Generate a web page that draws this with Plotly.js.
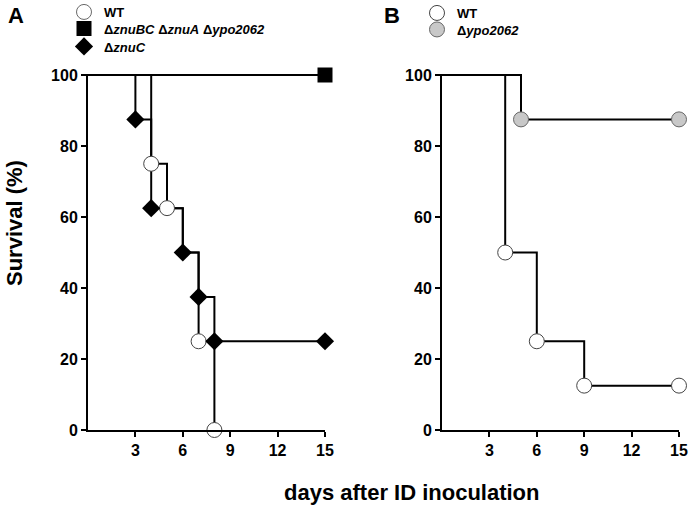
<!DOCTYPE html>
<html>
<head>
<meta charset="utf-8">
<script src="https://cdn.plot.ly/plotly-3.0.1.min.js"></script>
<style>html,body{margin:0;padding:0;background:#fff;}#chart{width:694px;height:510px;}</style>
</head>
<body>
<div id="chart"></div>
<script>
// Panel A data (days, survival %)
const aWtDays = [0, 4, 5, 6, 7, 8];
const aWtSurv = [100, 75, 62.5, 50, 25, 0];
const aTripleDays = [0, 15];
const aTripleSurv = [100, 100];
const aZnuCDays = [0, 3, 4, 6, 7, 8, 15];
const aZnuCSurv = [100, 87.5, 62.5, 50, 37.5, 25, 25];
// Panel B data
const bWtDays = [0, 4, 6, 9, 15];
const bWtSurv = [100, 50, 25, 12.5, 12.5];
const bYpoDays = [0, 5, 15];
const bYpoSurv = [100, 87.5, 87.5];

const xTicks = [3, 6, 9, 12, 15];
const yTicks = [0, 20, 40, 60, 80, 100];

const FONT = "Liberation Sans, Arial, Helvetica, sans-serif";
const lineStyle = {color: '#000', width: 2, shape: 'hv'};

function stepLine(x, y, xa, ya) {
  return {x: x, y: y, xaxis: xa, yaxis: ya, mode: 'lines', line: lineStyle,
          showlegend: false, hoverinfo: 'skip'};
}
function marks(x, y, xa, ya, name, marker, legend) {
  return {x: x.slice(1), y: y.slice(1), xaxis: xa, yaxis: ya, mode: 'markers',
          name: name, marker: marker, legend: legend, cliponaxis: false};
}

// a WT point that coincides with a ΔznuC event is hidden beneath the diamond
const aWtOpacity = aWtDays.slice(1).map((d, i) =>
  aZnuCDays.some((z, j) => z === d && aZnuCSurv[j] === aWtSurv[i + 1]) ? 0 : 1);

const openCircle = {symbol: 'circle', size: 15, color: '#fff', line: {color: '#444', width: 1}};
const openCircleA = Object.assign({}, openCircle, {opacity: aWtOpacity});
const greyCircle = {symbol: 'circle', size: 15, color: '#c8c8c8', line: {color: '#666', width: 1}};
const square = {symbol: 'square', size: 15, color: '#000', line: {color: '#000', width: 0}};
const diamond = {symbol: 'diamond', size: 14, color: '#000', line: {color: '#000', width: 0}};

const data = [
  stepLine(aWtDays, aWtSurv, 'x', 'y'),
  stepLine(aTripleDays, aTripleSurv, 'x', 'y'),
  stepLine(aZnuCDays, aZnuCSurv, 'x', 'y'),
  stepLine(bWtDays, bWtSurv, 'x2', 'y2'),
  stepLine(bYpoDays, bYpoSurv, 'x2', 'y2'),
  marks(aWtDays, aWtSurv, 'x', 'y', 'WT', openCircleA, 'legend'),
  marks(aTripleDays, aTripleSurv, 'x', 'y', 'Δ<i>znuBC</i> Δ<i>znuA</i> Δ<i>ypo2062</i>', square, 'legend2'),
  marks(aZnuCDays, aZnuCSurv, 'x', 'y', 'Δ<i>znuC</i>', diamond, 'legend3'),
  marks(bWtDays, bWtSurv, 'x2', 'y2', 'WT', openCircle, 'legend4'),
  marks(bYpoDays, bYpoSurv, 'x2', 'y2', 'Δ<i>ypo2062</i>', greyCircle, 'legend5')
];

const W = 694, H = 510;
const yTop = 100.4;
function xAxis(d0, d1, anchor) {
  return {domain: [d0 / W, d1 / W], range: [0, 15], anchor: anchor,
          tickvals: xTicks, ticks: 'outside', ticklen: 5, tickwidth: 2, tickcolor: '#000',
          showline: true, linewidth: 2, linecolor: '#000', showgrid: false, zeroline: false,
          tickfont: {family: FONT, size: 16, color: '#000', weight: 'bold'}, fixedrange: true};
}
function yAxis(anchor) {
  const pxPerUnit = (430 - 75) / 100;
  const top = 75 - (yTop - 100) * pxPerUnit;
  return {domain: [1 - 430 / H, 1 - top / H], range: [0, yTop], anchor: anchor,
          tickvals: yTicks, ticks: 'outside', ticklen: 5, tickwidth: 2, tickcolor: '#000',
          showline: true, linewidth: 2, linecolor: '#000', showgrid: false, zeroline: false,
          tickfont: {family: FONT, size: 16, color: '#000', weight: 'bold'}, fixedrange: true};
}

function leg(xSym, yMid) {
  return {x: (xSym - 22) / W, y: 1 - yMid / H, xanchor: 'left', yanchor: 'middle',
    bgcolor: 'rgba(0,0,0,0)', borderwidth: 0,
    font: {family: FONT, size: 13, color: '#000', weight: 'bold'}, itemsizing: 'trace',
    tracegroupgap: 0, itemclick: false, itemdoubleclick: false};
}

const layout = {
  width: W, height: H,
  margin: {l: 0, r: 0, t: 0, b: 0, autoexpand: false},
  paper_bgcolor: '#fff', plot_bgcolor: '#fff',
  font: {family: FONT, color: '#000'},
  xaxis: xAxis(88, 325, 'y'),
  yaxis: yAxis('x'),
  xaxis2: xAxis(442, 679, 'y2'),
  yaxis2: yAxis('x2'),
  legend: leg(86, 12),
  legend2: leg(86, 28.5),
  legend3: leg(86, 46.5),
  legend4: leg(439, 13),
  legend5: leg(439, 29.5),
  annotations: [
    {text: 'A', x: 16 / W, y: 1 - 15 / H, xref: 'paper', yref: 'paper', showarrow: false,
     font: {family: FONT, size: 22, weight: 'bold'}, xanchor: 'center', yanchor: 'middle'},
    {text: 'B', x: 392 / W, y: 1 - 15 / H, xref: 'paper', yref: 'paper', showarrow: false,
     font: {family: FONT, size: 22, weight: 'bold'}, xanchor: 'center', yanchor: 'middle'},
    {text: 'Survival (%)', x: 14 / W, y: 1 - 223 / H, xref: 'paper', yref: 'paper', showarrow: false,
     textangle: -90, font: {family: FONT, size: 22, weight: 'bold'}, xanchor: 'center', yanchor: 'middle'},
    {text: 'days after ID inoculation', x: 412 / W, y: 1 - 492 / H, xref: 'paper', yref: 'paper', showarrow: false,
     font: {family: FONT, size: 22, weight: 'bold'}, xanchor: 'center', yanchor: 'middle'}
  ]
};

Plotly.newPlot('chart', data, layout, {displayModeBar: false, staticPlot: true});
</script>
</body>
</html>
